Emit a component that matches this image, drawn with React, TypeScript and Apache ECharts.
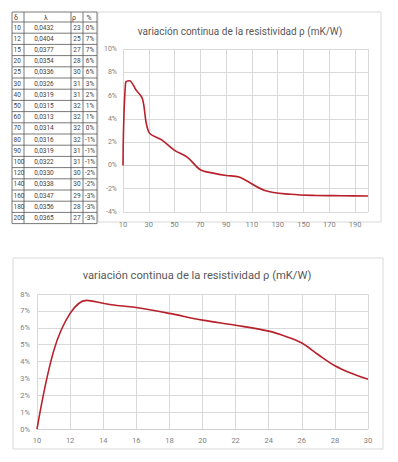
import React, { useEffect, useRef } from "react";
import * as echarts from "echarts";

// ---- Table data ----
const delta = [10, 12, 15, 20, 25, 30, 40, 50, 60, 70, 80, 90, 100, 120, 140, 160, 180, 200];
const lambda = [0.0432, 0.0404, 0.0377, 0.0354, 0.0336, 0.0326, 0.0319, 0.0315, 0.0313, 0.0314, 0.0316, 0.0319, 0.0322, 0.033, 0.0338, 0.0347, 0.0356, 0.0365];
const rho = [23, 25, 27, 28, 30, 31, 31, 32, 32, 32, 32, 31, 31, 30, 30, 29, 28, 27];
const pct = [0, 7, 7, 6, 6, 3, 2, 1, 1, 0, -1, -1, -1, -2, -2, -3, -3, -3];
const tableHeaders = ["δ", "λ", "ρ", "%"];

// ---- Top chart (continuous variation, δ 10..200) ----
const topX = [10, 12, 15, 20, 25, 30, 40, 50, 60, 70, 80, 90, 100, 120, 140, 160, 180, 200];
const topY = [0, 7.1, 7.27, 6.5, 5.75, 2.87, 2.2, 1.3, 0.7, -0.37, -0.66, -0.86, -1.0, -2.15, -2.48, -2.58, -2.6, -2.63];

// ---- Bottom chart (zoom δ 10..30) ----
const botX = [10, 11, 12, 13, 14, 15, 16, 18, 20, 22, 24, 25, 26, 27, 28, 29, 30];
const botY = [0, 4.6, 6.85, 7.62, 7.45, 7.3, 7.2, 6.85, 6.45, 6.15, 5.8, 5.5, 5.1, 4.4, 3.75, 3.3, 2.95];

const TITLE = "variación continua de la resistividad ρ (mK/W)";
const FONT = "Roboto, 'Noto Sans', sans-serif";
const GRID_COLOR = "#d9d9d9";
const LABEL_COLOR = "#7f7f7f";
const LINE_COLOR = "#b8202c";

function buildTable(): any[] {
  const colX = [12, 24, 71, 83, 97];
  const top = 12;
  const headH = 10;
  const rowH = 11.2;
  const n = delta.length;
  const bottom = top + headH + n * rowH;
  const els: any[] = [];
  const lineStyle = { stroke: "#555", lineWidth: 0.8 };
  colX.forEach((x) => {
    els.push({ type: "line", shape: { x1: x, y1: top, x2: x, y2: bottom }, style: lineStyle, silent: true });
  });
  els.push({ type: "line", shape: { x1: colX[0], y1: top, x2: colX[4], y2: top }, style: lineStyle });
  for (let i = 0; i <= n; i++) {
    const y = top + headH + i * rowH;
    els.push({ type: "line", shape: { x1: colX[0], y1: y, x2: colX[4], y2: y }, style: lineStyle });
  }
  const textStyle = { fontSize: 6.5, fill: "#444", fontFamily: FONT, verticalAlign: "middle" };
  const hx = [16, 46, 74, 89];
  tableHeaders.forEach((h, j) => {
    els.push({ type: "text", style: { ...textStyle, text: h, x: hx[j], y: top + headH / 2 + 0.5, align: "center", fontSize: 7 } });
  });
  for (let i = 0; i < n; i++) {
    const y = top + headH + i * rowH + rowH / 2;
    els.push({ type: "text", style: { ...textStyle, text: String(delta[i]), x: 13.5, y, align: "left" } });
    els.push({ type: "text", style: { ...textStyle, text: lambda[i].toFixed(4).replace(".", ","), x: 44, y, align: "center" } });
    els.push({ type: "text", style: { ...textStyle, text: String(rho[i]), x: 77, y, align: "center" } });
    els.push({ type: "text", style: { ...textStyle, text: pct[i] + "%", x: 90, y, align: "center" } });
  }
  return els;
}

export default function App() {
  const ref = useRef<HTMLDivElement>(null);
  useEffect(() => {
    if (!ref.current) return;
    const chart = echarts.init(ref.current, undefined, { renderer: "svg" });
    const axisLabelBase = { color: LABEL_COLOR, fontFamily: FONT };
    const option: any = {
      animation: false,
      backgroundColor: "#fff",
      grid: [
        { left: 123, top: 49, width: 245, height: 163 },
        { left: 37, top: 294, width: 331, height: 135 },
      ],
      xAxis: [
        {
          gridIndex: 0,
          type: "value",
          min: 10,
          max: 200,
          interval: 20,
          axisLine: { show: true, onZero: true, lineStyle: { color: "#cfcfcf" } },
          axisTick: { show: false },
          axisLabel: { ...axisLabelBase, fontSize: 7.5, margin: 8, showMaxLabel: false },
          splitLine: { show: true, lineStyle: { color: GRID_COLOR, width: 1 } },
        },
        {
          gridIndex: 1,
          type: "value",
          min: 10,
          max: 30,
          interval: 2,
          axisLine: { show: true, lineStyle: { color: "#cfcfcf" } },
          axisTick: { show: false },
          axisLabel: { ...axisLabelBase, fontSize: 7.5, margin: 7 },
          splitLine: { show: true, lineStyle: { color: GRID_COLOR, width: 1 } },
        },
      ],
      yAxis: [
        {
          gridIndex: 0,
          type: "value",
          min: -4,
          max: 10,
          interval: 2,
          axisLine: { show: false },
          axisTick: { show: false },
          axisLabel: { ...axisLabelBase, fontSize: 7, margin: 6, formatter: "{value}%" },
          splitLine: { show: true, lineStyle: { color: GRID_COLOR, width: 1 } },
        },
        {
          gridIndex: 1,
          type: "value",
          min: 0,
          max: 8,
          interval: 1,
          axisLine: { show: false },
          axisTick: { show: false },
          axisLabel: { ...axisLabelBase, fontSize: 7.5, margin: 7, formatter: "{value}%" },
          splitLine: { show: true, lineStyle: { color: GRID_COLOR, width: 1 } },
        },
      ],
      series: [
        {
          type: "line",
          xAxisIndex: 0,
          yAxisIndex: 0,
          data: topX.map((x, i) => [x, topY[i]]),
          smooth: 0.35,
          showSymbol: false,
          lineStyle: { color: LINE_COLOR, width: 1.6 },
        },
        {
          type: "line",
          xAxisIndex: 1,
          yAxisIndex: 1,
          data: botX.map((x, i) => [x, botY[i]]),
          smooth: 0.35,
          showSymbol: false,
          lineStyle: { color: LINE_COLOR, width: 1.6 },
        },
      ],
      graphic: [
        { type: "rect", shape: { x: 98, y: 12, width: 283, height: 210 }, style: { fill: "none", stroke: "#d9d9d9", lineWidth: 1 }, silent: true, z: -1 },
        { type: "rect", shape: { x: 13, y: 258, width: 370, height: 191 }, style: { fill: "none", stroke: "#d9d9d9", lineWidth: 1 }, silent: true, z: -1 },
        { type: "text", style: { text: TITLE, x: 240, y: 31, align: "center", verticalAlign: "middle", fontSize: 10, fill: "#595959", fontFamily: FONT } },
        { type: "text", style: { text: TITLE, x: 197, y: 275, align: "center", verticalAlign: "middle", fontSize: 11.2, fill: "#595959", fontFamily: FONT } },
        { type: "group", children: buildTable() },
      ],
    };
    chart.setOption(option);
    return () => chart.dispose();
  }, []);
  return <div ref={ref} style={{ position: "fixed", left: 0, top: 0, width: 398, height: 462 }} />;
}
